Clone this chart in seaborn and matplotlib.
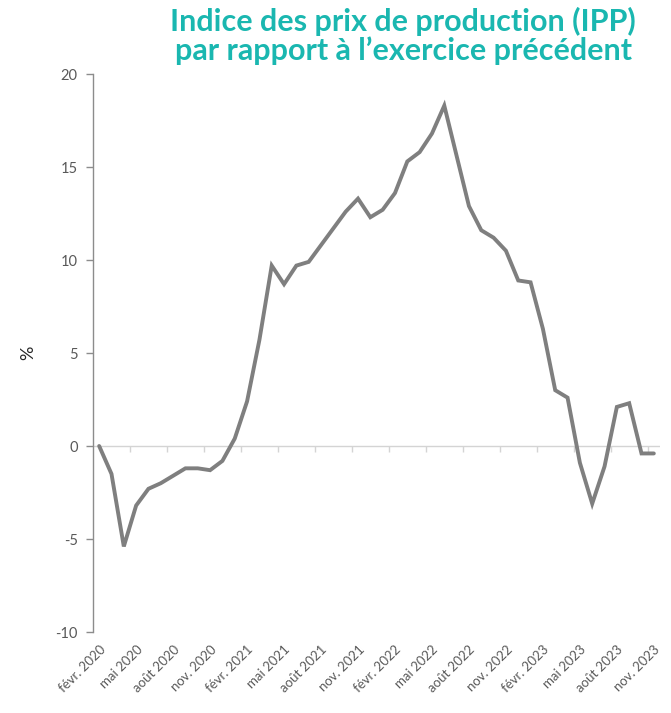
import matplotlib
matplotlib.use("Agg")
import matplotlib.pyplot as plt
import seaborn as sns
import pandas as pd
import numpy as np

# ---- data ----
months = [
    "févr. 2020", "mars 2020", "avr. 2020", "mai 2020", "juin 2020", "juil. 2020",
    "août 2020", "sept. 2020", "oct. 2020", "nov. 2020", "déc. 2020", "janv. 2021",
    "févr. 2021", "mars 2021", "avr. 2021", "mai 2021", "juin 2021", "juil. 2021",
    "août 2021", "sept. 2021", "oct. 2021", "nov. 2021", "déc. 2021", "janv. 2022",
    "févr. 2022", "mars 2022", "avr. 2022", "mai 2022", "juin 2022", "juil. 2022",
    "août 2022", "sept. 2022", "oct. 2022", "nov. 2022", "déc. 2022", "janv. 2023",
    "févr. 2023", "mars 2023", "avr. 2023", "mai 2023", "juin 2023", "juil. 2023",
    "août 2023", "sept. 2023", "oct. 2023", "nov. 2023",
]
ipp = [
    0.0, -1.5, -5.4, -3.2, -2.3, -2.0,
    -1.6, -1.2, -1.2, -1.3, -0.8, 0.4,
    2.4, 5.7, 9.7, 8.7, 9.7, 9.9,
    10.8, 11.7, 12.6, 13.3, 12.3, 12.7,
    13.6, 15.3, 15.8, 16.8, 18.3, 15.6,
    12.9, 11.6, 11.2, 10.5, 8.9, 8.8,
    6.3, 3.0, 2.6, -0.9, -3.1, -1.1,
    2.1, 2.3, -0.4, -0.4,
]
label_step = 3
y_ticks = [-10, -5, 0, 5, 10, 15, 20]
title = "Indice des prix de production (IPP)\npar rapport à l\u2019exercice précédent"
y_label = "%"

df = pd.DataFrame({"mois": months, "ipp": ipp})
df["pos"] = np.arange(len(df))

sns.set_theme(style="white")
plt.rcParams["font.family"] = ["Lato", "DejaVu Sans"]

fig = plt.figure(figsize=(6.71, 7.13), dpi=100)
ax = fig.add_axes([0.1386, 0.1136, 0.8450, 0.7826])

sns.lineplot(data=df, x="pos", y="ipp", ax=ax, color="#7f7f7f", linewidth=2.8,
             solid_joinstyle="miter")

n = len(df)
ax.set_xlim(-0.5, n - 0.5)
ax.set_ylim(min(y_ticks), max(y_ticks))

# zero line
ax.axhline(0, color="#d4d4d4", linewidth=1.0, zorder=0)

# y axis
ax.set_yticks(y_ticks)
ax.set_yticklabels([str(v) for v in y_ticks], color="#595959", fontsize=10.5)
ax.tick_params(axis="y", direction="out", length=5, width=1, color="#8c8c8c",
               left=True, pad=6)
for s in ["top", "right", "bottom"]:
    ax.spines[s].set_visible(False)
ax.spines["left"].set_color("#8c8c8c")
ax.spines["left"].set_linewidth(1.0)

# x labels at bottom
label_pos = list(range(0, n, label_step))
ax.set_xticks(label_pos)
ax.set_xticklabels([months[i] for i in label_pos], rotation=45, ha="right",
                   rotation_mode="anchor", color="#595959", fontsize=9.5)
ax.tick_params(axis="x", length=0, pad=8, bottom=True)

# tick marks on the zero line (between categories)
zero_frac = (0 - min(y_ticks)) / (max(y_ticks) - min(y_ticks))
sec = ax.secondary_xaxis(zero_frac)
sec.set_xticks([p + label_step - 0.5 for p in label_pos if p + label_step - 0.5 < n - 0.5])
sec.set_xticklabels([])
sec.tick_params(axis="x", direction="out", length=4, width=1, color="#d4d4d4")
for s in sec.spines.values():
    s.set_visible(False)

ax.set_xlabel("")
ax.set_ylabel(y_label, fontsize=13, color="#262626", labelpad=14)

fig.text(0.601, 0.991, title, ha="center", va="top", fontsize=22,
         fontweight="bold", color="#1ab7b0", linespacing=1.02)

fig.savefig("out.png", dpi=100, facecolor="white")
